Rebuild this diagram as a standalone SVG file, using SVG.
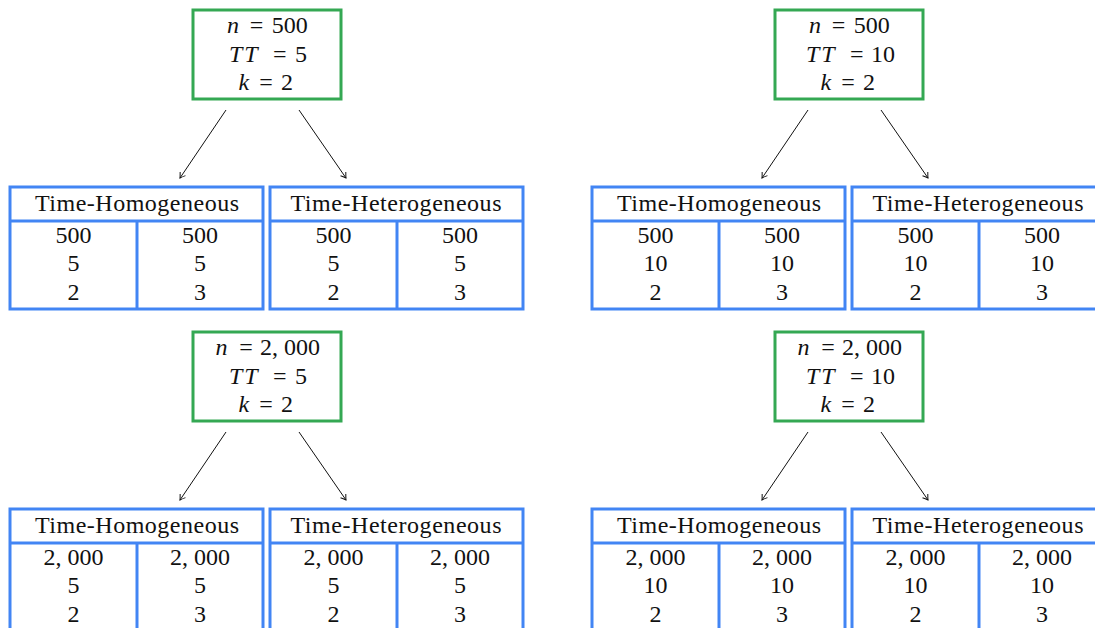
<svg xmlns="http://www.w3.org/2000/svg" xmlns:xlink="http://www.w3.org/1999/xlink" width="1095" height="628" viewBox="0 0 1095 628">
  <style>
    text { font-family: "Liberation Serif", "Times New Roman", serif; font-size: 24px; fill: #111; text-anchor: middle; }
    text.m { text-anchor: start; }
    .it { font-style: italic; }
    .wide { letter-spacing: 2px; }
    .param { fill: #ffffff; stroke: #34a853; stroke-width: 3; }
    .grid { fill: #ffffff; stroke: #4285f4; stroke-width: 3; }
    .edge { fill: none; stroke: #111; stroke-width: 1; }
  </style>
  <defs>
    <marker id="tip" viewBox="-6 -4 7 8" markerWidth="7" markerHeight="8" refX="0" refY="0" orient="auto" markerUnits="userSpaceOnUse">
      <path d="M -5 -3.2 Q -1.5 -0.8 0 0 Q -1.5 0.8 -5 3.2" fill="none" stroke="#111" stroke-width="1"/>
    </marker>
    <!-- table outline: header band, two value columns -->
    <g id="frame">
      <rect class="grid" x="0" y="0" width="253" height="122"/>
      <line class="grid" x1="0" y1="34" x2="253" y2="34"/>
      <line class="grid" x1="127" y1="34" x2="127" y2="122"/>
    </g>
    <g id="box">
      <rect class="param" x="0" y="0" width="148" height="89"/>
    </g>
  </defs>

  <rect width="1095" height="628" fill="#ffffff"/>

  <!-- connectors -->
  <g id="connectors">
    <line class="edge" x1="226" y1="110" x2="180" y2="178" marker-end="url(#tip)"/>
    <line class="edge" x1="299" y1="110" x2="346" y2="178" marker-end="url(#tip)"/>
    <line class="edge" x1="808" y1="110" x2="762" y2="178" marker-end="url(#tip)"/>
    <line class="edge" x1="881" y1="110" x2="928" y2="178" marker-end="url(#tip)"/>
    <line class="edge" x1="226" y1="432" x2="180" y2="500" marker-end="url(#tip)"/>
    <line class="edge" x1="299" y1="432" x2="346" y2="500" marker-end="url(#tip)"/>
    <line class="edge" x1="808" y1="432" x2="762" y2="500" marker-end="url(#tip)"/>
    <line class="edge" x1="881" y1="432" x2="928" y2="500" marker-end="url(#tip)"/>
  </g>

  <!-- parameter boxes -->
  <g id="p-500-5" transform="translate(193,10)">
    <use xlink:href="#box"/>
    <text class="m" y="23"><tspan class="it" x="34">n</tspan><tspan x="56.7">=</tspan><tspan x="78.7">500</tspan></text>
    <text class="m" y="51.5"><tspan class="it wide" x="36">TT</tspan><tspan x="80">=</tspan><tspan x="102">5</tspan></text>
    <text class="m" y="80"><tspan class="it" x="45.5">k</tspan><tspan x="66.2">=</tspan><tspan x="88">2</tspan></text>
  </g>
  <g id="p-500-10" transform="translate(775,10)">
    <use xlink:href="#box"/>
    <text class="m" y="23"><tspan class="it" x="34">n</tspan><tspan x="56.7">=</tspan><tspan x="78.7">500</tspan></text>
    <text class="m" y="51.5"><tspan class="it wide" x="31">TT</tspan><tspan x="75">=</tspan><tspan x="96">10</tspan></text>
    <text class="m" y="80"><tspan class="it" x="45.5">k</tspan><tspan x="66.2">=</tspan><tspan x="88">2</tspan></text>
  </g>
  <g id="p-2000-5" transform="translate(193,332)">
    <use xlink:href="#box"/>
    <text class="m" y="23"><tspan class="it" x="22.5">n</tspan><tspan x="46.2">=</tspan><tspan x="67">2, 000</tspan></text>
    <text class="m" y="51.5"><tspan class="it wide" x="36">TT</tspan><tspan x="80">=</tspan><tspan x="102">5</tspan></text>
    <text class="m" y="80"><tspan class="it" x="45.5">k</tspan><tspan x="66.2">=</tspan><tspan x="88">2</tspan></text>
  </g>
  <g id="p-2000-10" transform="translate(775,332)">
    <use xlink:href="#box"/>
    <text class="m" y="23"><tspan class="it" x="22.5">n</tspan><tspan x="46.2">=</tspan><tspan x="67">2, 000</tspan></text>
    <text class="m" y="51.5"><tspan class="it wide" x="31">TT</tspan><tspan x="75">=</tspan><tspan x="96">10</tspan></text>
    <text class="m" y="80"><tspan class="it" x="45.5">k</tspan><tspan x="66.2">=</tspan><tspan x="88">2</tspan></text>
  </g>

  <!-- design tables -->
  <g id="hom-500-5" transform="translate(10,187)">
    <use xlink:href="#frame"/>
    <text x="127" y="24" textLength="204" lengthAdjust="spacing">Time-Homogeneous</text>
    <text x="63.5" y="55.5">500</text><text x="190" y="55.5">500</text>
    <text x="63.5" y="84">5</text><text x="190" y="84">5</text>
    <text x="63.5" y="112.5">2</text><text x="190" y="112.5">3</text>
  </g>
  <g id="het-500-5" transform="translate(270,187)">
    <use xlink:href="#frame"/>
    <text x="126" y="24" textLength="211" lengthAdjust="spacing">Time-Heterogeneous</text>
    <text x="63.5" y="55.5">500</text><text x="190" y="55.5">500</text>
    <text x="63.5" y="84">5</text><text x="190" y="84">5</text>
    <text x="63.5" y="112.5">2</text><text x="190" y="112.5">3</text>
  </g>
  <g id="hom-500-10" transform="translate(592,187)">
    <use xlink:href="#frame"/>
    <text x="127" y="24" textLength="204" lengthAdjust="spacing">Time-Homogeneous</text>
    <text x="63.5" y="55.5">500</text><text x="190" y="55.5">500</text>
    <text x="63.5" y="84">10</text><text x="190" y="84">10</text>
    <text x="63.5" y="112.5">2</text><text x="190" y="112.5">3</text>
  </g>
  <g id="het-500-10" transform="translate(852,187)">
    <use xlink:href="#frame"/>
    <text x="126" y="24" textLength="211" lengthAdjust="spacing">Time-Heterogeneous</text>
    <text x="63.5" y="55.5">500</text><text x="190" y="55.5">500</text>
    <text x="63.5" y="84">10</text><text x="190" y="84">10</text>
    <text x="63.5" y="112.5">2</text><text x="190" y="112.5">3</text>
  </g>
  <g id="hom-2000-5" transform="translate(10,509)">
    <use xlink:href="#frame"/>
    <text x="127" y="24" textLength="204" lengthAdjust="spacing">Time-Homogeneous</text>
    <text x="63.5" y="55.5">2, 000</text><text x="190" y="55.5">2, 000</text>
    <text x="63.5" y="84">5</text><text x="190" y="84">5</text>
    <text x="63.5" y="112.5">2</text><text x="190" y="112.5">3</text>
  </g>
  <g id="het-2000-5" transform="translate(270,509)">
    <use xlink:href="#frame"/>
    <text x="126" y="24" textLength="211" lengthAdjust="spacing">Time-Heterogeneous</text>
    <text x="63.5" y="55.5">2, 000</text><text x="190" y="55.5">2, 000</text>
    <text x="63.5" y="84">5</text><text x="190" y="84">5</text>
    <text x="63.5" y="112.5">2</text><text x="190" y="112.5">3</text>
  </g>
  <g id="hom-2000-10" transform="translate(592,509)">
    <use xlink:href="#frame"/>
    <text x="127" y="24" textLength="204" lengthAdjust="spacing">Time-Homogeneous</text>
    <text x="63.5" y="55.5">2, 000</text><text x="190" y="55.5">2, 000</text>
    <text x="63.5" y="84">10</text><text x="190" y="84">10</text>
    <text x="63.5" y="112.5">2</text><text x="190" y="112.5">3</text>
  </g>
  <g id="het-2000-10" transform="translate(852,509)">
    <use xlink:href="#frame"/>
    <text x="126" y="24" textLength="211" lengthAdjust="spacing">Time-Heterogeneous</text>
    <text x="63.5" y="55.5">2, 000</text><text x="190" y="55.5">2, 000</text>
    <text x="63.5" y="84">10</text><text x="190" y="84">10</text>
    <text x="63.5" y="112.5">2</text><text x="190" y="112.5">3</text>
  </g>
</svg>
